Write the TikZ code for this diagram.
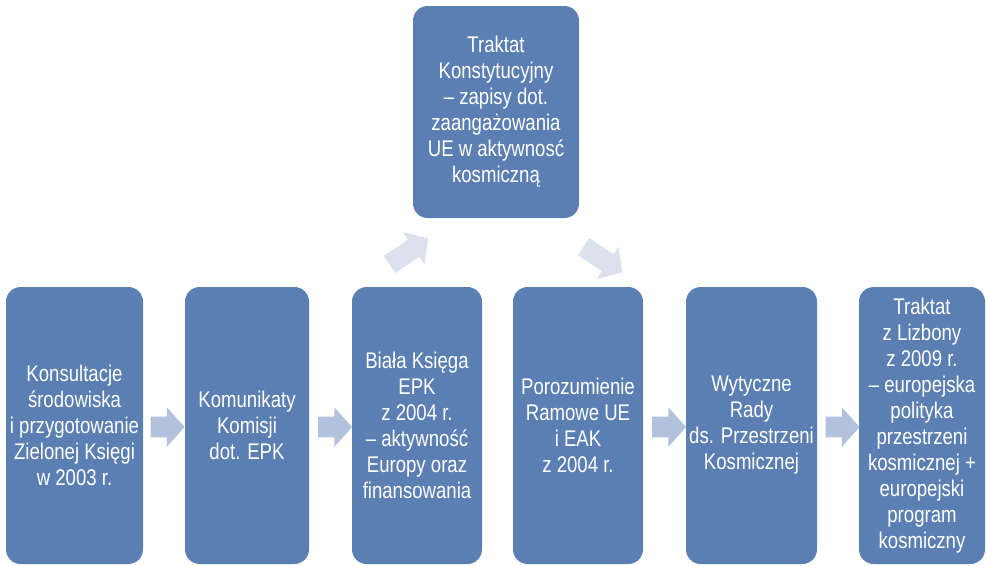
\documentclass[tikz,border=0pt]{standalone}
\usepackage{fontspec}
\setmainfont{Liberation Sans}[FakeStretch=0.82]
\usetikzlibrary{shapes.arrows}
\definecolor{boxblue}{HTML}{5B7FB3}
\definecolor{arrowblue}{HTML}{B3C2DC}
\definecolor{arrowpale}{HTML}{DCE1EE}
\tikzset{
  stagebox/.style={draw=none, fill=boxblue, rounded corners=11pt, text=white,
    align=center, inner sep=0pt,
    font=\fontsize{17pt}{19.5pt}\selectfont},
  blockarrow/.style={single arrow, draw=none, fill=arrowblue, inner sep=0pt,
    minimum height=#1, single arrow head extend=7pt, single arrow tip angle=96,
    text height=15pt, text depth=0pt, text width=0pt},
  blockarrow/.default=25.5pt,
}
\begin{document}
\begin{tikzpicture}[x=0.75pt,y=-0.75pt]
\useasboundingbox (0,0) rectangle (986,565);
\node[stagebox, minimum width=137*0.75pt, minimum height=277*0.75pt] (b1) at (74.5,425.5)
  {Konsultacje\\środowiska\\i przygotowanie\\Zielonej Księgi\\w 2003 r.};
\node[stagebox, minimum width=124*0.75pt, minimum height=277*0.75pt] (b2) at (247,425.5)
  {Komunikaty\\Komisji\\dot. EPK};
\node[stagebox, minimum width=130*0.75pt, minimum height=277*0.75pt] (b3) at (417,425.5)
  {Biała Księga\\EPK\\z 2004 r.\\– aktywność\\Europy oraz\\finansowania};
\node[stagebox, minimum width=130*0.75pt, minimum height=277*0.75pt] (b4) at (578,425.5)
  {Porozumienie\\Ramowe UE\\i EAK\\z 2004 r.};
\node[stagebox, minimum width=131*0.75pt, minimum height=277*0.75pt] (b5) at (751.5,425.5)
  {Wytyczne\\Rady\\ds. Przestrzeni\\Kosmicznej};
\node[stagebox, minimum width=126*0.75pt, minimum height=277*0.75pt] (b6) at (922,425.5)
  {Traktat\\z Lizbony\\z 2009 r.\\– europejska\\polityka\\przestrzeni\\kosmicznej +\\europejski\\program\\kosmiczny};
\node[stagebox, minimum width=166*0.75pt, minimum height=212*0.75pt] (top) at (496,112)
  {Traktat\\Konstytucyjny\\– zapisy dot.\\zaangażowania\\UE w aktywnosć\\kosmiczną};
% horizontal block arrows
\node[blockarrow] (a12) at (163,427) {};
\node[blockarrow] (a23) at (330.5,427) {};
\node[blockarrow] (a45) at (664.5,427) {};
\node[blockarrow] (a56) at (838,427) {};
% diagonal block arrows
\node[blockarrow=35pt, fill=arrowpale, rotate=34] (a3t) at (405,254) {};
\node[blockarrow=35pt, fill=arrowpale, rotate=-34] (at4) at (599,257) {};
\end{tikzpicture}
\end{document}
